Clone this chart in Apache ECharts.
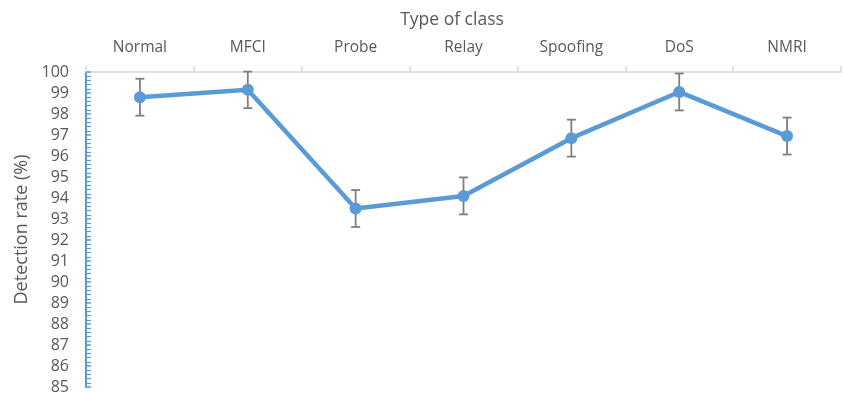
<!DOCTYPE html>
<html>
<head>
<meta charset="utf-8">
<script src="https://cdn.jsdelivr.net/npm/echarts@6/dist/echarts.min.js"></script>
<style>
  html, body { margin: 0; padding: 0; background: #fff; }
  #chart { width: 843px; height: 395px; }
</style>
</head>
<body>
<div id="chart"></div>
<script>
// Detection rate per attack class, with error margins
const categories = ['Normal', 'MFCI', 'Probe', 'Relay', 'Spoofing', 'DoS', 'NMRI'];
const detectionRate = [98.8, 99.15, 93.5, 94.1, 96.85, 99.05, 96.95];
const errorMargin = [0.88, 0.87, 0.88, 0.88, 0.88, 0.88, 0.88];
const yTicks = { min: 85, max: 100, step: 1 };

const textColor = '#595959';
const lineColor = '#5b9bd5';
const barColor = '#7f7f7f';
const fontFamily = '"Open Sans", "Liberation Sans", sans-serif';

const errorData = categories.map((c, i) => [i, detectionRate[i] - errorMargin[i], detectionRate[i] + errorMargin[i]]);

const chart = echarts.init(document.getElementById('chart'), null, { renderer: 'canvas' });
chart.setOption({
  animation: false,
  backgroundColor: '#ffffff',
  title: {
    text: 'Type of class',
    left: 447,
    top: 6,
    textAlign: 'center',
    textStyle: { color: textColor, fontSize: 17.5, fontWeight: 'normal', fontFamily }
  },
  grid: { left: 86, right: 2, top: 72, bottom: 7, containLabel: false },
  xAxis: {
    type: 'category',
    position: 'top',
    data: categories,
    boundaryGap: true,
    axisLine: { show: true, lineStyle: { color: '#d9d9d9', width: 1.5 } },
    axisTick: { show: true, alignWithLabel: false, length: 6, inside: false, lineStyle: { color: '#d9d9d9', width: 1.5 } },
    axisLabel: { color: textColor, fontSize: 15.5, fontFamily, margin: 16 },
    splitLine: { show: false }
  },
  yAxis: {
    type: 'value',
    min: yTicks.min,
    max: yTicks.max,
    interval: yTicks.step,
    name: 'Detection rate (%)',
    nameLocation: 'middle',
    nameGap: 54,
    nameRotate: 90,
    nameTextStyle: { color: textColor, fontSize: 18, fontFamily },
    axisLine: { show: true, lineStyle: { color: lineColor, width: 2 } },
    axisTick: { show: true, inside: true, length: 5, lineStyle: { color: lineColor, width: 1.5 } },
    minorTick: { show: true, splitNumber: 5, length: 5, lineStyle: { color: lineColor, width: 1.2 } },
    axisLabel: { color: textColor, fontSize: 16, fontFamily, margin: 17 },
    splitLine: { show: false }
  },
  series: [
    {
      type: 'custom',
      name: 'error',
      z: 1,
      data: errorData,
      encode: { x: 0, y: [1, 2] },
      renderItem: function (params, api) {
        const x = api.value(0);
        const lo = api.coord([x, api.value(1)]);
        const hi = api.coord([x, api.value(2)]);
        const half = 4.5;
        const style = { stroke: barColor, lineWidth: 1.8 };
        return {
          type: 'group',
          children: [
            { type: 'line', shape: { x1: hi[0], y1: hi[1], x2: lo[0], y2: lo[1] }, style },
            { type: 'line', shape: { x1: hi[0] - half, y1: hi[1], x2: hi[0] + half, y2: hi[1] }, style },
            { type: 'line', shape: { x1: lo[0] - half, y1: lo[1], x2: lo[0] + half, y2: lo[1] }, style }
          ]
        };
      }
    },
    {
      type: 'line',
      name: 'Detection rate',
      z: 5,
      data: detectionRate,
      symbol: 'circle',
      symbolSize: 12,
      lineStyle: { color: lineColor, width: 4.5 },
      itemStyle: { color: lineColor }
    }
  ]
});
</script>
</body>
</html>
